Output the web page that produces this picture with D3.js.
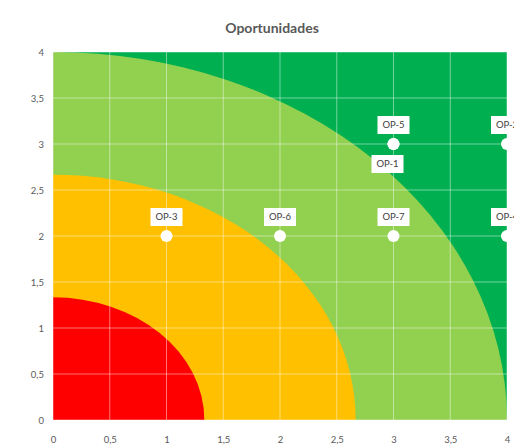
<!DOCTYPE html>
<html><head><meta charset="utf-8">
<script src="https://cdn.jsdelivr.net/npm/d3@7"></script>
<style>
html,body{margin:0;padding:0;background:#fff;}
svg{display:block;}
text{font-family:Lato,"Open Sans",sans-serif;}
</style></head>
<body>
<svg id="c" width="514" height="445"></svg>
<script>
const title = "Oportunidades";
const zoneRadii = [4, 8/3, 4/3];
const zoneColors = ["#92D050", "#FFC000", "#FF0000"];
const bgColor = "#00B050";
const tickValues = [0, 0.5, 1, 1.5, 2, 2.5, 3, 3.5, 4];
const pointNames = ["OP-5", "OP-1", "OP-2", "OP-3", "OP-6", "OP-7", "OP-4"];
const pointX = [3, 3, 4, 1, 2, 3, 4];
const pointY = [3, 3, 3, 2, 2, 2, 2];
const labelPos = ["above", "below", "above", "above", "above", "above", "above"];

const svg = d3.select("#c");
const L = 53, R = 507, T = 52, B = 420;
const x = d3.scaleLinear().domain([0, 4]).range([L, R]);
const y = d3.scaleLinear().domain([0, 4]).range([B, T]);
const loc = d3.formatLocale({decimal: ",", thousands: ".", grouping: [3], currency: ["", "€"]});
const fmt = loc.format("~g");

svg.append("defs").append("clipPath").attr("id", "pc")
  .append("rect").attr("x", L).attr("y", T).attr("width", R - L).attr("height", B - T);

svg.append("text").attr("x", 272).attr("y", 33).attr("text-anchor", "middle")
  .attr("font-size", 14).attr("font-weight", "bold").attr("fill", "#595959").text(title);

const g = svg.append("g").attr("clip-path", "url(#pc)");
g.append("rect").attr("x", L).attr("y", T).attr("width", R - L).attr("height", B - T).attr("fill", bgColor);
g.selectAll("ellipse.z").data(zoneRadii).join("ellipse")
  .attr("cx", x(0)).attr("cy", y(0))
  .attr("rx", d => x(d) - x(0)).attr("ry", d => y(0) - y(d))
  .attr("fill", (d, i) => zoneColors[i]);

// gridlines
g.selectAll("line.v").data(tickValues).join("line")
  .attr("x1", d => x(d)).attr("x2", d => x(d)).attr("y1", T).attr("y2", B)
  .attr("stroke", "rgba(255,255,255,0.45)").attr("stroke-width", 1);
g.selectAll("line.h").data(tickValues).join("line")
  .attr("y1", d => y(d)).attr("y2", d => y(d)).attr("x1", L).attr("x2", R)
  .attr("stroke", "rgba(255,255,255,0.45)").attr("stroke-width", 1);

// axes
const ax = svg.append("g").attr("transform", `translate(0,${B + 10})`)
  .call(d3.axisBottom(x).tickValues(tickValues).tickFormat(fmt).tickSize(0).tickPadding(6));
const ay = svg.append("g").attr("transform", `translate(${L - 9},0)`)
  .call(d3.axisLeft(y).tickValues(tickValues).tickFormat(fmt).tickSize(0).tickPadding(0));
[ax, ay].forEach(a => {
  a.select(".domain").remove();
  a.selectAll("text").attr("font-size", 9.5).attr("fill", "#595959")
    .attr("font-family", "Lato,'Open Sans',sans-serif");
});

// points
const pts = pointNames.map((n, i) => ({n, x: pointX[i], y: pointY[i], p: labelPos[i]}));
svg.selectAll("circle.pt").data(pts).join("circle")
  .attr("cx", d => x(d.x)).attr("cy", d => y(d.y)).attr("r", 6)
  .attr("fill", "#fff");
const lab = svg.selectAll("g.lab").data(pts).join("g")
  .attr("transform", d => `translate(${x(d.x) - (d.p === "below" ? 6 : 0)},${y(d.y) + (d.p === "below" ? 20 : -19)})`);
lab.append("rect").attr("x", -16).attr("y", -9).attr("width", 32).attr("height", 18).attr("fill", "#fff");
lab.append("text").attr("text-anchor", "middle").attr("dy", "0.35em")
  .attr("font-size", 9.5).attr("fill", "#404040").text(d => d.n);
</script>
</body></html>
